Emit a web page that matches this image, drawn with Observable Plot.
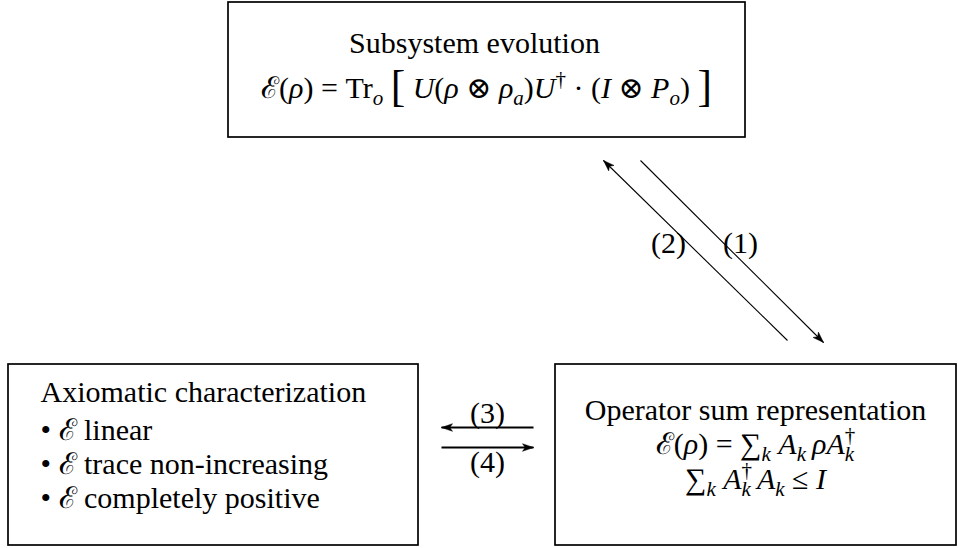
<!DOCTYPE html>
<html>
<head>
<meta charset="utf-8">
<script src="https://cdn.jsdelivr.net/npm/d3@7"></script>
<script src="https://cdn.jsdelivr.net/npm/@observablehq/plot@0.6"></script>
<style>
  html, body { margin: 0; padding: 0; background: #fff; }
  #chart svg { display: block; background: #fff; }
</style>
</head>
<body>
<div id="chart"></div>
<script>
// ---- Boxes (nodes of the diagram) ----
const boxNames = ["Subsystem evolution", "Axiomatic characterization", "Operator sum representation"];
const boxX1 = [228, 8, 555];
const boxX2 = [745, 418, 956];
const boxY1 = [2, 364, 364];
const boxY2 = [137, 545, 545];

// ---- Text lines (simple markup: $..$ italic, _x subscript, ^x superscript, ~x big) ----
const lineText = [
  "Subsystem evolution",
  "ℰ($ρ$) = Tr_o ~[ $U$($ρ$ ⊗ $ρ$_a)$U$^† · ($I$ ⊗ $P$_o) ~]",
  "Axiomatic characterization",
  "• ℰ linear",
  "• ℰ trace non-increasing",
  "• ℰ completely positive",
  "Operator sum representation",
  "ℰ($ρ$) = ∑_k $A$_k\u2009$ρA$^†_k",
  "∑_k $A$^†_k\u2009$A$_k ≤ $I$"
];
const lineX = [474, 486, 40, 40, 40, 40, 755, 755, 755];
const lineY = [43, 88, 392, 430, 464, 498, 410, 444, 479];
const lineAnchor = ["middle", "middle", "start", "start", "start", "start", "middle", "middle", "middle"];

// ---- Arrows (tail -> head) and their labels ----
const arrowLabel = ["(1)", "(2)", "(3)", "(4)"];
const arrowX1 = [640, 787, 533, 441];
const arrowY1 = [160, 340, 427, 447];
const arrowX2 = [823, 603, 441, 533];
const arrowY2 = [342, 160, 427, 447];
const labelX = [740, 668, 487, 487];
const labelY = [243, 243, 413, 462];

// ---- build tables ----
const boxes = boxNames.map((name, i) => ({name, x1: boxX1[i], x2: boxX2[i], y1: boxY1[i], y2: boxY2[i]}));
const lines = lineText.map((t, i) => ({t, x: lineX[i], y: lineY[i], a: lineAnchor[i]}));
const arrows = arrowLabel.map((label, i) => ({
  label, i, x1: arrowX1[i], y1: arrowY1[i], x2: arrowX2[i], y2: arrowY2[i], lx: labelX[i], ly: labelY[i]
}));

// arrowhead polygons computed from the arrow endpoints
const headLen = 11, headHalf = 3.8;
const heads = [];
for (const a of arrows) {
  const dx = a.x2 - a.x1, dy = a.y2 - a.y1, L = Math.hypot(dx, dy);
  const ux = dx / L, uy = dy / L, nx = -uy, ny = ux;
  const tip = [a.x2, a.y2];
  const b1 = [a.x2 - headLen * ux + headHalf * nx, a.y2 - headLen * uy + headHalf * ny];
  const notch = [a.x2 - 0.75 * headLen * ux, a.y2 - 0.75 * headLen * uy];
  const b2 = [a.x2 - headLen * ux - headHalf * nx, a.y2 - headLen * uy - headHalf * ny];
  for (const p of [tip, b1, notch, b2, tip]) heads.push({id: a.label, x: p[0], y: p[1]});
}

const font = "'Liberation Serif', 'DejaVu Serif', serif";
const fs = 30;

const svg = Plot.plot({
  width: 958,
  height: 548,
  margin: 0,
  x: {domain: [0, 958], axis: null},
  y: {domain: [0, 548], reverse: true, axis: null},
  style: {background: "#fff", color: "#000", overflow: "visible"},
  marks: [
    Plot.rect(boxes, {x1: "x1", x2: "x2", y1: "y1", y2: "y2", fill: "none", stroke: "#000", strokeWidth: 1.7}),
    Plot.link(arrows.filter(a => a.i < 2), {x1: "x1", y1: "y1", x2: "x2", y2: "y2", stroke: "#000", strokeWidth: 1.1}),
    Plot.link(arrows.filter(a => a.i >= 2), {x1: "x1", y1: "y1", x2: "x2", y2: "y2", stroke: "#000", strokeWidth: 2.2}),
    Plot.line(heads, {x: "x", y: "y", z: "id", fill: "#000", stroke: "#000", strokeWidth: 0.5, curve: "linear"}),
    Plot.text(lines.filter(d => d.a === "middle"), {x: "x", y: "y", text: "t", textAnchor: "middle", fontSize: fs, fontFamily: font, fill: "#000"}),
    Plot.text(lines.filter(d => d.a === "start"), {x: "x", y: "y", text: "t", textAnchor: "start", fontSize: fs, fontFamily: font, fill: "#000"}),
    Plot.text(arrows, {x: "lx", y: "ly", text: "label", fontSize: fs, fontFamily: font, fill: "#000"})
  ]
});

// render the small math markup into tspans
function renderMarkup(el, str) {
  while (el.firstChild) el.removeChild(el.firstChild);
  const chars = Array.from(str);
  let italic = false, buf = "", prevSup = false;
  const ns = "http://www.w3.org/2000/svg";
  const flush = () => {
    if (!buf) return;
    const t = document.createElementNS(ns, "tspan");
    if (italic) t.setAttribute("font-style", "italic");
    t.textContent = buf;
    el.appendChild(t);
    buf = "";
    prevSup = false;
  };
  for (let i = 0; i < chars.length; i++) {
    const c = chars[i];
    if (c === "$") { flush(); italic = !italic; continue; }
    if ((c === "_" || c === "^" || c === "~") && i + 1 < chars.length) {
      flush();
      const n = chars[++i];
      const t = document.createElementNS(ns, "tspan");
      t.textContent = n;
      if (c === "~") {
        t.setAttribute("font-size", "145%");
        t.setAttribute("baseline-shift", "-3px");
        prevSup = false;
      } else {
        t.setAttribute("font-size", "70%");
        if (/[a-zA-Z]/.test(n)) t.setAttribute("font-style", "italic");
        if (c === "_") {
          t.setAttribute("baseline-shift", "-7px");
          if (prevSup) t.setAttribute("dx", "-0.5em");
          prevSup = false;
        } else {
          t.setAttribute("baseline-shift", "12px");
          prevSup = true;
        }
      }
      el.appendChild(t);
      continue;
    }
    buf += c;
  }
  flush();
}
d3.select(svg).selectAll('g[aria-label="text"] text').each(function () {
  renderMarkup(this, this.textContent);
});

document.getElementById("chart").appendChild(svg);
</script>
</body>
</html>
